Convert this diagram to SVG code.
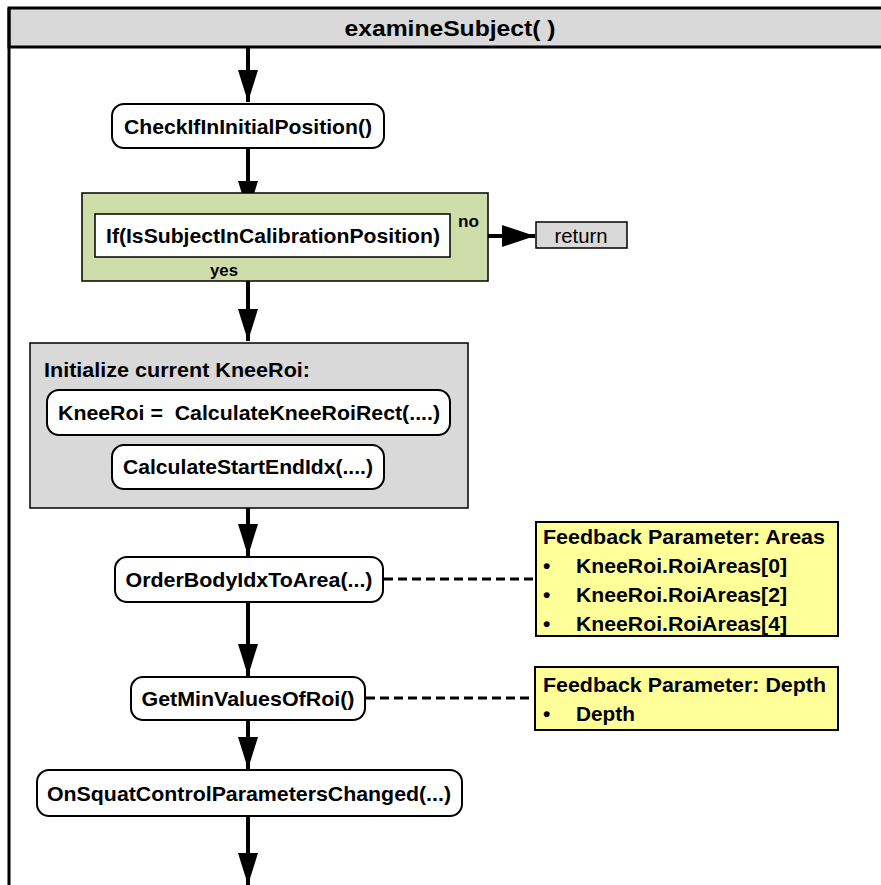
<svg xmlns="http://www.w3.org/2000/svg" width="881" height="885" viewBox="0 0 881 885">
  <defs>
    <style>
      text { font-family: "Liberation Sans", Arial, sans-serif; font-weight: bold; fill: #000; }
      .node { fill: #fff; stroke: #000; stroke-width: 2; }
      .flow { stroke: #000; stroke-width: 4; fill: none; }
      .dash { stroke: #000; stroke-width: 3; stroke-dasharray: 9 5; fill: none; }
      .note { fill: #ffff99; stroke: #000; stroke-width: 2; }
      .t { font-size: 21px; }
    </style>
    <marker id="arrowH" viewBox="0 0 33 22" refX="33" refY="11" markerWidth="33" markerHeight="22" markerUnits="userSpaceOnUse" orient="0">
      <path d="M0,0 L33,11 L0,22 Z" fill="#000"/>
    </marker>
    <marker id="arrowV" viewBox="0 0 20 32" refX="10" refY="32" markerWidth="20" markerHeight="32" markerUnits="userSpaceOnUse" orient="0">
      <path d="M0,0 L20,0 L10,32 Z" fill="#000"/>
    </marker>
  </defs>

  <rect width="881" height="885" fill="#fff"/>

  <!-- swimlane frame -->
  <g id="frame">
    <rect x="9" y="8" width="880" height="39" fill="#d9d9d9" stroke="#000" stroke-width="3"/>
    <line x1="9" y1="8" x2="9" y2="885" stroke="#000" stroke-width="3"/>
    <text x="450" y="36" font-size="22" text-anchor="middle" textLength="211" lengthAdjust="spacingAndGlyphs">examineSubject( )</text>
  </g>

  <!-- connectors -->
  <g id="connectors">
    <line class="flow" x1="248" y1="47" x2="248" y2="102" marker-end="url(#arrowV)"/>
    <line class="flow" x1="248" y1="148" x2="248" y2="213" marker-end="url(#arrowV)"/>
    <line class="flow" x1="450" y1="236" x2="535" y2="236" marker-end="url(#arrowH)"/>
    <line class="flow" x1="248" y1="257" x2="248" y2="341" marker-end="url(#arrowV)"/>
    <line class="flow" x1="248" y1="508" x2="248" y2="556" marker-end="url(#arrowV)"/>
    <line class="flow" x1="248" y1="602" x2="248" y2="676" marker-end="url(#arrowV)"/>
    <line class="flow" x1="248" y1="720" x2="248" y2="769" marker-end="url(#arrowV)"/>
    <line class="flow" x1="248" y1="816" x2="248" y2="885" marker-end="url(#arrowV)"/>
    <line class="dash" x1="384" y1="579" x2="536" y2="579"/>
    <line class="dash" x1="366" y1="698" x2="535" y2="698"/>
  </g>

  <g id="check-initial">
    <rect class="node" x="112" y="104" width="272" height="44" rx="12"/>
    <text class="t" x="248" y="134" text-anchor="middle" textLength="248" lengthAdjust="spacingAndGlyphs">CheckIfInInitialPosition()</text>
  </g>

  <g id="calibration-check">
    <rect x="82" y="193" width="406" height="88" fill="#cfddab" stroke="#000" stroke-width="1.5"/>
    <rect x="95" y="214" width="355" height="43" fill="#fff" stroke="#000" stroke-width="1.5"/>
    <text class="t" x="273" y="243" text-anchor="middle" textLength="334" lengthAdjust="spacingAndGlyphs">If(IsSubjectInCalibrationPosition)</text>
    <text x="458" y="227" font-size="16" textLength="21" lengthAdjust="spacingAndGlyphs">no</text>
    <text x="210" y="276" font-size="16" textLength="28" lengthAdjust="spacingAndGlyphs">yes</text>
  </g>

  <g id="return">
    <rect x="536" y="222" width="91" height="26" fill="#d9d9d9" stroke="#000" stroke-width="1.5"/>
    <text x="581" y="243" font-size="20" text-anchor="middle" style="font-weight:normal" textLength="53" lengthAdjust="spacingAndGlyphs">return</text>
  </g>

  <g id="init-kneeroi">
    <rect x="30" y="343" width="438" height="165" fill="#d9d9d9" stroke="#000" stroke-width="1.5"/>
    <text class="t" x="44" y="377" textLength="266" lengthAdjust="spacingAndGlyphs">Initialize current KneeRoi:</text>
    <rect class="node" x="47" y="390" width="403" height="45" rx="12"/>
    <text class="t" x="249" y="420" text-anchor="middle" xml:space="preserve" textLength="382" lengthAdjust="spacingAndGlyphs">KneeRoi =  CalculateKneeRoiRect(....)</text>
    <rect class="node" x="112" y="445" width="272" height="44" rx="12"/>
    <text class="t" x="248" y="474" text-anchor="middle" textLength="250" lengthAdjust="spacingAndGlyphs">CalculateStartEndIdx(....)</text>
  </g>

  <g id="order-body">
    <rect class="node" x="115" y="557" width="268" height="45" rx="12"/>
    <text class="t" x="249" y="587" text-anchor="middle" textLength="247" lengthAdjust="spacingAndGlyphs">OrderBodyIdxToArea(...)</text>
  </g>

  <g id="note-areas">
    <rect class="note" x="536" y="522" width="302" height="114"/>
    <text class="t" x="543" y="544" textLength="282" lengthAdjust="spacingAndGlyphs">Feedback Parameter: Areas</text>
    <text class="t" x="543" y="573">•</text>
    <text class="t" x="576" y="573" textLength="211" lengthAdjust="spacingAndGlyphs">KneeRoi.RoiAreas[0]</text>
    <text class="t" x="543" y="602">•</text>
    <text class="t" x="576" y="602" textLength="211" lengthAdjust="spacingAndGlyphs">KneeRoi.RoiAreas[2]</text>
    <text class="t" x="543" y="631">•</text>
    <text class="t" x="576" y="631" textLength="211" lengthAdjust="spacingAndGlyphs">KneeRoi.RoiAreas[4]</text>
  </g>

  <g id="min-values">
    <rect class="node" x="131" y="677" width="234" height="43" rx="12"/>
    <text class="t" x="248" y="706" text-anchor="middle" textLength="213" lengthAdjust="spacingAndGlyphs">GetMinValuesOfRoi()</text>
  </g>

  <g id="note-depth">
    <rect class="note" x="535" y="667" width="303" height="63"/>
    <text class="t" x="543" y="692" textLength="283" lengthAdjust="spacingAndGlyphs">Feedback Parameter: Depth</text>
    <text class="t" x="543" y="721">•</text>
    <text class="t" x="576" y="721" textLength="59" lengthAdjust="spacingAndGlyphs">Depth</text>
  </g>

  <g id="squat-params">
    <rect class="node" x="37" y="770" width="425" height="46" rx="12"/>
    <text class="t" x="249" y="801" text-anchor="middle" textLength="404" lengthAdjust="spacingAndGlyphs">OnSquatControlParametersChanged(...)</text>
  </g>
</svg>
